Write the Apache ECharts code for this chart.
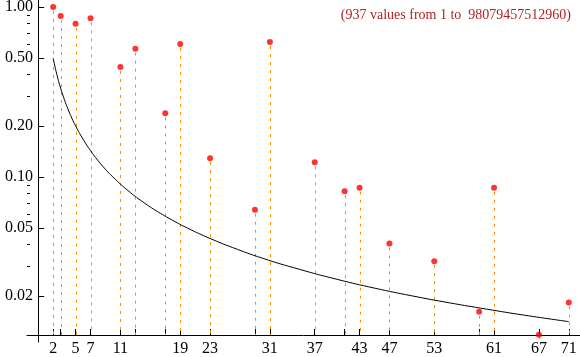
<!DOCTYPE html>
<html><head><meta charset="utf-8">
<script src="https://cdn.jsdelivr.net/npm/echarts@6/dist/echarts.min.js"></script>
<style>html,body{margin:0;padding:0;background:#fff}#c{width:580px;height:357px}</style>
</head><body><div id="c"></div>
<script>
const primes = [2,3,5,7,11,13,17,19,23,29,31,37,41,43,47,53,59,61,67,71];
const values = [1.00,0.885,0.798,0.858,0.444,0.569,0.237,0.606,0.129,0.0642,0.622,0.122,0.0824,0.0865,0.0407,0.032,0.0161,0.0865,0.0118,0.0183];
const xLabels = [2,5,7,11,19,23,31,37,43,47,53,61,67,71];
const yMajor = [0.02,0.05,0.1,0.2,0.5,1.0];
const yMinor = [0.03,0.04,0.06,0.07,0.08,0.09,0.3,0.4,0.6,0.7,0.8,0.9];
const curveX = [2,2.5,3,3.5,4,4.5,5,6,7,8,9,10,12,14,16,18,20,23,26,30,35,40,45,50,55,60,65,71];
const curveY = [0.5,0.4,0.333,0.286,0.25,0.222,0.2,0.167,0.143,0.125,0.111,0.1,0.0833,0.0714,0.0625,0.0556,0.05,0.0435,0.0385,0.0333,0.0286,0.025,0.0222,0.02,0.0182,0.0167,0.0154,0.0141];
const titleText = '(937 values from 1 to  98079457512960)';

const FONT = 'Liberation Serif';
const X_OFFSET = -7;
const chart = echarts.init(document.getElementById('c'), null, {renderer: 'canvas'});
const pts = primes.map((p, i) => [p, values[i]]);
const curve = curveX.map((x, i) => [x, curveY[i]]);

chart.setOption({
  animation: false,
  backgroundColor: '#fff',
  title: {
    text: titleText, right: 4, top: 3,
    textStyle: {fontFamily: FONT, fontSize: 14, fontWeight: 'normal', color: '#b22222'}
  },
  grid: {left: 27, right: 0, top: 0, bottom: 15, containLabel: false, outerBoundsMode: 'none'},
  xAxis: {
    type: 'value', min: -1.5, max: 72.5, offset: X_OFFSET,
    axisLine: {onZero: false, lineStyle: {color: '#000', width: 1}},
    axisTick: {show: true, inside: true, length: 6, customValues: primes, lineStyle: {color: '#000'}},
    axisLabel: {customValues: xLabels, margin: 6, fontFamily: FONT, fontSize: 16, color: '#000'},
    splitLine: {show: false}
  },
  yAxis: [{
    type: 'log', logBase: 10, min: 0.0107, max: 1.1, position: 'left',
    axisLine: {onZero: true, lineStyle: {color: '#000', width: 1}},
    axisTick: {show: true, inside: true, length: 6, customValues: yMajor, lineStyle: {color: '#000'}},
    axisLabel: {customValues: yMajor, margin: -6, fontFamily: FONT, fontSize: 16, color: '#000',
      formatter: v => Number(v).toFixed(2)},
    splitLine: {show: false}
  }, {
    type: 'log', logBase: 10, min: 0.0107, max: 1.1, position: 'left',
    axisLine: {show: false, onZero: true},
    axisTick: {show: true, inside: true, length: 3, customValues: yMinor, lineStyle: {color: '#000'}},
    axisLabel: {show: false},
    splitLine: {show: false}
  }],
  series: [{
    type: 'custom',
    data: pts,
    clip: false,
    renderItem: (params, api) => {
      const top = api.coord([api.value(0), api.value(1)]);
      const bottomY = params.coordSys.y + params.coordSys.height + X_OFFSET;
      const x = Math.round(top[0]) + 0.5;
      return {
        type: 'line',
        shape: {x1: x, y1: top[1] + 4, x2: x, y2: bottomY},
        style: {stroke: '#ff8c00', lineWidth: 1, lineDash: [3, 5]}
      };
    },
    z: 1
  }, {
    type: 'line',
    data: curve,
    smooth: true,
    showSymbol: false,
    lineStyle: {color: '#000', width: 1},
    z: 2
  }, {
    type: 'scatter',
    data: pts,
    symbolSize: 6,
    clip: false,
    itemStyle: {color: '#ff0000'},
    z: 3
  }]
});
</script></body></html>
